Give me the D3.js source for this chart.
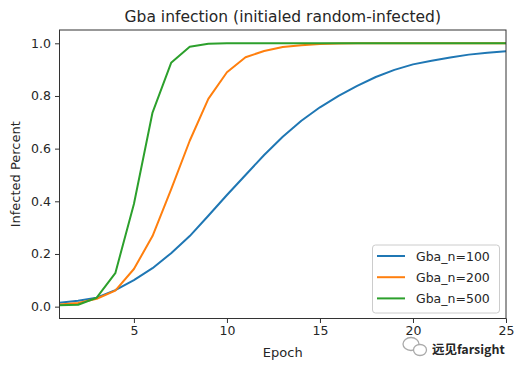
<!DOCTYPE html>
<html><head><meta charset="utf-8">
<script src="https://cdn.jsdelivr.net/npm/d3@7/dist/d3.min.js"></script>
<style>body{margin:0;background:#fff}svg{display:block}text{font-family:"DejaVu Sans",sans-serif;fill:#262626}</style>
</head><body><svg id="c" width="523" height="370"></svg>
<script>
const epochs = d3.range(1, 26);
const seriesNames = ["Gba_n=100", "Gba_n=200", "Gba_n=500"];
const n100 = [0.015,0.022,0.034,0.063,0.101,0.146,0.203,0.268,0.345,0.424,0.500,0.576,0.645,0.706,0.757,0.800,0.838,0.872,0.899,0.920,0.934,0.946,0.957,0.964,0.970];
const n200 = [0.008,0.014,0.030,0.061,0.143,0.268,0.445,0.630,0.789,0.890,0.947,0.971,0.986,0.993,0.997,0.999,1.0,1.0,1.0,1.0,1.0,1.0,1.0,1.0,1.0];
const n500 = [0.005,0.007,0.034,0.127,0.390,0.737,0.926,0.987,0.998,1.0,1.0,1.0,1.0,1.0,1.0,1.0,1.0,1.0,1.0,1.0,1.0,1.0,1.0,1.0,1.0];
const xTicks = [5,10,15,20,25];
const yTicks = [0.0,0.2,0.4,0.6,0.8,1.0];
const colors = ["#1f77b4","#ff7f0e","#2ca02c"];
const seriesValues = [n100, n200, n500];

const svg = d3.select("#c");
const L = 59.5, R = 506, T = 30, B = 318.5;
const x = d3.scaleLinear().domain([1,25]).range([L,R]);
const y = d3.scaleLinear().domain([-0.045,1.0505]).range([B,T]);

const g = svg.append("g");
svg.append("clipPath").attr("id","clp").append("rect")
  .attr("x",L).attr("y",T).attr("width",R-L).attr("height",B-T);

const line = d3.line().x((d,i)=>x(epochs[i])).y(d=>y(d));
seriesValues.forEach((vals,k)=>{
  g.append("path").datum(vals).attr("d",line).attr("fill","none")
   .attr("stroke",colors[k]).attr("stroke-width",2).attr("clip-path","url(#clp)")
   .attr("stroke-linejoin","round").attr("stroke-linecap","square");
});

svg.append("rect").attr("x",L).attr("y",T).attr("width",R-L).attr("height",B-T)
  .attr("fill","none").attr("stroke","#333").attr("stroke-width",1);

const xa = svg.append("g").attr("transform",`translate(0,${B})`)
  .call(d3.axisBottom(x).tickValues(xTicks).tickFormat(d3.format("d")).tickSize(4.5).tickPadding(3));
const ya = svg.append("g").attr("transform",`translate(${L},0)`)
  .call(d3.axisLeft(y).tickValues(yTicks).tickFormat(d3.format(".1f")).tickSize(4.5).tickPadding(4));
[xa,ya].forEach(a=>{
  a.select(".domain").remove();
  a.selectAll("line").attr("stroke","#333");
  a.selectAll("text").attr("font-size","12.5px").attr("fill","#262626").style("font-family","DejaVu Sans");
});

svg.append("text").attr("x",(L+R)/2).attr("y",22).attr("text-anchor","middle")
  .attr("font-size","15.5px").text("Gba infection (initialed random-infected)");
svg.append("text").attr("x",(L+R)/2).attr("y",357).attr("text-anchor","middle")
  .attr("font-size","13px").text("Epoch");
svg.append("text").attr("transform",`translate(20,${(T+B)/2}) rotate(-90)`).attr("text-anchor","middle")
  .attr("font-size","13px").text("Infected Percent");

const lg = svg.append("g");
lg.append("rect").attr("x",372.5).attr("y",245).attr("width",127).attr("height",68).attr("rx",3)
  .attr("fill","#fff").attr("fill-opacity",0.8).attr("stroke","#ccc").attr("stroke-width",1);
seriesNames.forEach((nm,k)=>{
  const yy = 256 + k*21.2;
  lg.append("line").attr("x1",377).attr("x2",405).attr("y1",yy).attr("y2",yy)
    .attr("stroke",colors[k]).attr("stroke-width",2);
  lg.append("text").attr("x",416).attr("y",yy+4.5).attr("font-size","12.5px").text(nm);
});

const wm = svg.append("g");
wm.append("ellipse").attr("cx",411).attr("cy",344).attr("rx",8).attr("ry",6.5).attr("fill","none").attr("stroke","#aaa").attr("stroke-width",1.3);
wm.append("ellipse").attr("cx",420).attr("cy",350).attr("rx",6.5).attr("ry",5.5).attr("fill","#fff").attr("stroke","#aaa").attr("stroke-width",1.3);
wm.append("text").attr("x",432).attr("y",354).attr("font-size","12.5px").attr("font-weight","bold")
  .style("font-family","'Noto Sans CJK SC', sans-serif").attr("fill","#a0a0a0").text("远见farsight");
</script></body></html>
